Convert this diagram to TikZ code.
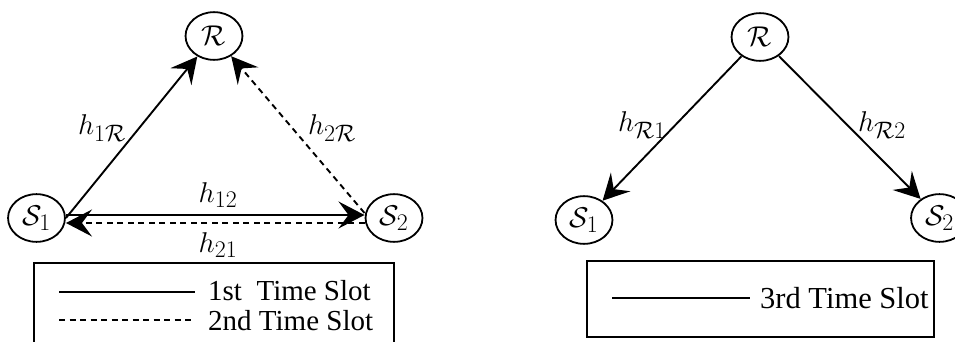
\documentclass[tikz,border=0pt]{standalone}
\usepackage{fontspec}
\setmainfont{Liberation Serif}
\usetikzlibrary{arrows.meta,shapes.geometric}
\begin{document}
\begin{tikzpicture}[x=1pt,y=-1pt,
  nd/.style={draw,ellipse,line width=1.8pt,minimum width=49.5pt,minimum height=41.5pt,inner sep=0pt,scale=1.15,font=\Huge},
  lbl/.style={inner sep=0pt,scale=1.15,font=\Huge},
  lg/.style={inner sep=0pt,anchor=base west,font=\fontsize{29}{32}\selectfont},
  edge/.style={line width=1.9pt,-{Stealth[length=26pt,width=27pt,inset=10pt]}},
  dsh/.style={dash pattern=on 6pt off 4.5pt},
  dedge/.style={edge,dsh},
  box/.style={draw,line width=1.8pt},
  lline/.style={line width=1.9pt}]
\useasboundingbox (0,0) rectangle (955,342);
% ---- left diagram ----
\node[nd] (r) at (214,36) {$\mathcal{R}$};
\node[nd] (s1) at (36.5,218) {$\mathcal{S}_1$};
\node[nd] (s2) at (394,218) {$\mathcal{S}_2$};
\draw[edge] (s1.east) -- (r);
\draw[dedge] ([yshift=5pt]s2.west) -- (r);
\draw[edge] ([yshift=3pt]s1.east) -- ([yshift=3pt]s2.west);
\draw[dedge] ([yshift=-5pt]s2.west) -- ([yshift=-5pt]s1.east);
\node[lbl] (l1r) at (102,128) {$h_{1\mathcal{R}}$};
\node[lbl] (l2r) at (332,128) {$h_{2\mathcal{R}}$};
\node[lbl] (l12) at (218,195) {$h_{12}$};
\node[lbl] (l21) at (218,245) {$h_{21}$};
\draw[box] (34,263) rectangle (394,360);
\coordinate (a1) at (59,292); \coordinate (b1) at (195,292);
\coordinate (a2) at (59,320); \coordinate (b2) at (195,320);
\draw[lline] (a1) -- (b1);
\draw[lline,dsh] (a2) -- (b2);
\node[lg] (t1) at (208,300) {1st\ \ Time Slot};
\node[lg] (t2) at (208,330) {2nd Time Slot};
% ---- right diagram ----
\node[nd] (rr) at (760,37) {$\mathcal{R}$};
\node[nd] (rs1) at (584,220) {$\mathcal{S}_1$};
\node[nd] (rs2) at (939.5,218) {$\mathcal{S}_2$};
\draw[edge] (rr) -- (rs1);
\draw[edge] (rr) -- (rs2);
\node[lbl] (lr1) at (642,125) {$h_{\mathcal{R}1}$};
\node[lbl] (lr2) at (882,125) {$h_{\mathcal{R}2}$};
\draw[box] (587,261) rectangle (934,337);
\coordinate (a3) at (612,298); \coordinate (b3) at (750,298);
\draw[lline] (a3) -- (b3);
\node[lg,font=\fontsize{30.5}{33}\selectfont] (t3) at (760,308) {3rd Time Slot};
\end{tikzpicture}
\end{document}
